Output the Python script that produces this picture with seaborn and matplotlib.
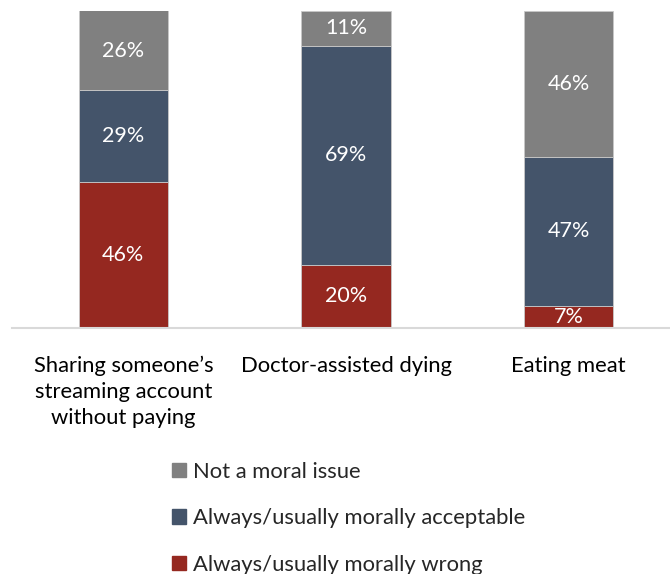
import matplotlib
matplotlib.use("Agg")
import matplotlib.pyplot as plt
from matplotlib.patches import Rectangle
import seaborn as sns
import numpy as np

# Survey responses (%) per behaviour
categories = ["Sharing someone\u2019s\nstreaming account\nwithout paying",
              "Doctor-assisted dying",
              "Eating meat"]
wrong = [46, 20, 7]
acceptable = [29, 69, 47]
not_moral = [26, 11, 46]

series_names = ["Always/usually morally wrong",
                "Always/usually morally acceptable",
                "Not a moral issue"]
colors = ["#952820", "#44546A", "#808080"]

sns.set_theme(style="white")
plt.rcParams["font.family"] = ["Lato", "DejaVu Sans"]

fig = plt.figure(figsize=(6.7, 5.74), dpi=100)
ax = fig.add_axes([12 / 670, 1 - 328 / 574, (670 - 12) / 670, (328 - 11) / 574])

bottom = np.zeros(len(categories))
for vals, name, col in zip([wrong, acceptable, not_moral], series_names, colors):
    sns.barplot(x=categories, y=vals, bottom=bottom, color=col, width=0.4,
                edgecolor="#c8c8c8", linewidth=0.6, ax=ax, saturation=1)
    top = np.minimum(bottom + np.array(vals), 100)
    for i, v in enumerate(vals):
        ax.text(i, (bottom[i] + top[i]) / 2, f"{v}%", ha="center", va="center",
                color="white", fontsize=15.5)
    bottom = bottom + np.array(vals)

ax.set_ylim(0, 100)
ax.set_xlim(-0.5, 2.455)
ax.set_yticks([])
ax.set_ylabel("")
for s in ["top", "left", "right"]:
    ax.spines[s].set_visible(False)
ax.spines["bottom"].set_color("#d9d9d9")
ax.spines["bottom"].set_linewidth(1.5)
ax.tick_params(axis="x", length=0, pad=20, labelsize=15.8, colors="black")
for lbl in ax.get_xticklabels():
    lbl.set_linespacing(1.38)
    lbl.set_va("top")

handles = [Rectangle((0, 0), 1, 1, color=c) for c in colors[::-1]]
fig.legend(handles, series_names[::-1], loc="upper left",
           bbox_to_anchor=(172 / 670, 1 - 462 / 574), frameon=False,
           fontsize=15.8, handlelength=0.62, handleheight=0.62,
           handletextpad=0.35, labelspacing=1.2, borderpad=0, borderaxespad=0)

fig.savefig("out.png", dpi=100)
